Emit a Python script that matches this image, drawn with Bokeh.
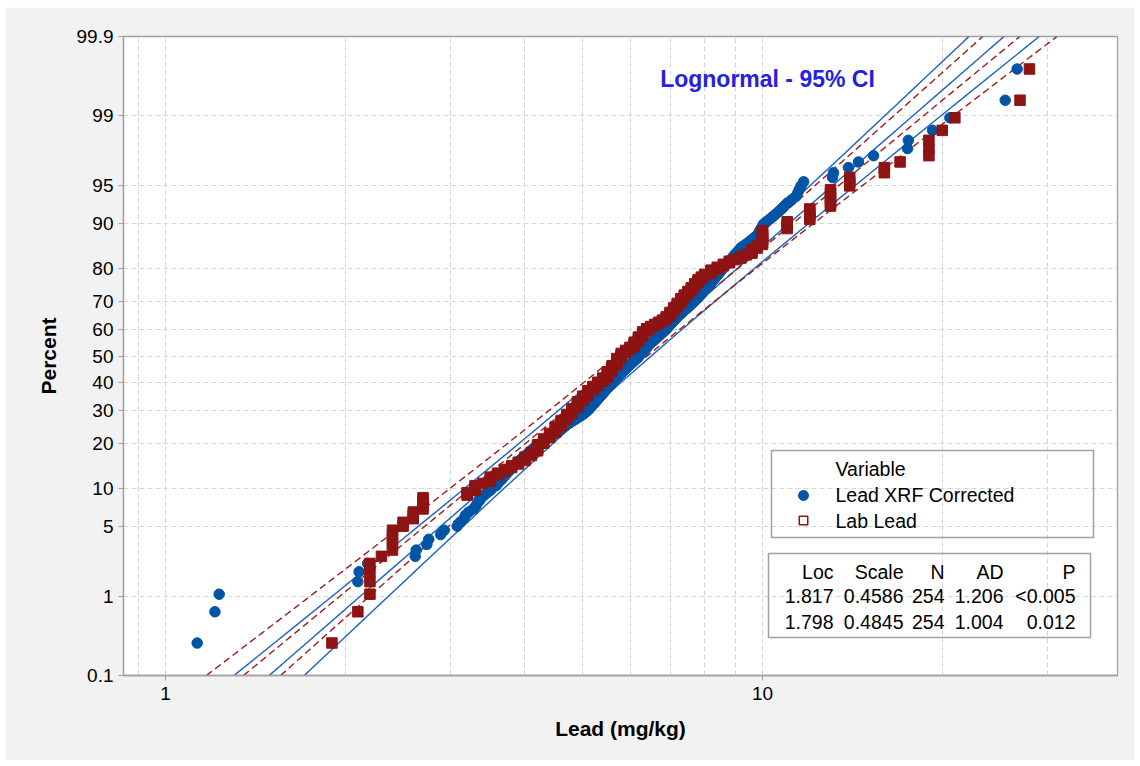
from statistics import NormalDist
import numpy as np
from bokeh.plotting import figure
from bokeh.models import Range1d, FixedTicker, Label, BoxAnnotation
from bokeh.embed import file_html
from bokeh.resources import INLINE

# ---------------- data ----------------
xrf_values = [
    1.13, 1.21, 1.23, 2.10, 2.11, 2.18, 2.62, 2.63, 2.74, 2.76, 2.89, 2.93, 3.08, 3.12,
    3.16, 3.18, 3.22, 3.28, 3.31, 3.33, 3.36, 3.38, 3.42, 3.46, 3.50, 3.53,
    3.58, 3.60, 3.63, 3.66, 3.68, 3.71, 3.73, 3.76, 3.78, 3.80, 3.83, 3.86,
    3.89, 3.92, 3.95, 3.98, 4.01, 4.04, 4.07, 4.10, 4.12, 4.15, 4.18, 4.21, 4.25,
    4.28, 4.32, 4.35, 4.39, 4.42, 4.46, 4.50, 4.53, 4.56, 4.59, 4.62, 4.65, 4.68,
    4.71, 4.75, 4.78, 4.82, 4.86, 4.89, 4.93, 4.96, 5.00, 5.03, 5.06, 5.08, 5.11,
    5.13, 5.15, 5.17, 5.19, 5.21, 5.23, 5.25, 5.27, 5.29, 5.31, 5.33, 5.35,
    5.37, 5.39, 5.41, 5.43, 5.45, 5.47, 5.49, 5.51, 5.53, 5.55, 5.57, 5.59, 5.61,
    5.63, 5.65, 5.67, 5.70, 5.72, 5.74, 5.77, 5.79, 5.81, 5.83, 5.85, 5.88, 5.90,
    5.92, 5.95, 5.97, 6.00, 6.03, 6.05, 6.08, 6.10, 6.13, 6.15, 6.18, 6.20,
    6.22, 6.24, 6.27, 6.29, 6.31, 6.33, 6.35, 6.38, 6.40, 6.42, 6.44, 6.47, 6.49,
    6.52, 6.55, 6.58, 6.61, 6.64, 6.67, 6.70, 6.73, 6.76, 6.79, 6.82, 6.85, 6.88,
    6.91, 6.93, 6.96, 6.98, 7.01, 7.04, 7.06, 7.09, 7.12, 7.14, 7.17, 7.20, 7.23,
    7.26, 7.30, 7.33, 7.37, 7.40, 7.44, 7.48, 7.51, 7.55, 7.58, 7.62, 7.66,
    7.69, 7.73, 7.76, 7.80, 7.83, 7.86, 7.90, 7.93, 7.96, 7.99, 8.02, 8.06, 8.09,
    8.13, 8.17, 8.20, 8.24, 8.28, 8.31, 8.35, 8.39, 8.42, 8.46, 8.50, 8.53, 8.57,
    8.61, 8.66, 8.70, 8.75, 8.79, 8.84, 8.89, 8.94, 8.99, 9.04, 9.09, 9.14, 9.19,
    9.28, 9.37, 9.46, 9.55, 9.64, 9.72, 9.81,
    9.86, 9.90, 9.95, 10.00, 10.04,
    10.15, 10.27, 10.39, 10.51, 10.64,
    10.76, 10.88, 11.00,
    11.18, 11.36, 11.45, 11.52, 11.60,
    11.72, 13.10, 13.15, 13.93, 14.48, 15.35, 17.50, 17.55, 19.27, 20.60, 25.50, 26.70,
]

lab_values = [1.9, 2.1, 2.2, 2.3, 2.4, 2.5, 2.6, 2.7,
              3.2, 3.3, 3.4, 3.5, 3.6, 3.7, 3.8, 3.9,
              4.0, 4.1, 4.2, 4.3, 4.4, 4.5, 4.6, 4.7, 4.8, 4.9,
              5.0, 5.1, 5.2, 5.3, 5.4, 5.5, 5.6, 5.7, 5.8, 5.9,
              6.0, 6.1, 6.2, 6.3, 6.4, 6.5, 6.6, 6.7, 6.8, 6.9,
              7.0, 7.1, 7.2, 7.3, 7.4, 7.5, 7.6, 7.7, 7.8, 7.9,
              8.0, 8.2, 8.4, 8.6, 8.8, 9.0, 9.2, 9.4, 9.6, 9.8,
              10, 11, 12, 13, 14, 16, 17, 19, 20, 21, 27, 28]
lab_counts = [1, 1, 4, 1, 5, 2, 3, 5,
              2, 3, 1, 3, 2, 2, 2, 2,
              3, 3, 5, 4, 4, 5, 5, 5, 5, 6,
              5, 5, 4, 4, 4, 6, 6, 7, 5, 3,
              3, 5, 5, 5, 3, 2, 2, 2, 2, 3,
              4, 4, 4, 4, 3, 3, 3, 3, 3, 2,
              2, 3, 2, 2, 2, 1, 2, 1, 3, 2,
              8, 4, 5, 6, 3, 2, 1, 3, 1, 1, 1, 1]

series_names = ["Lead XRF Corrected", "Lab Lead"]
fit_loc = [1.817, 1.798]
fit_scale = [0.4586, 0.4845]
fit_n = [254, 254]
fit_ad = [1.206, 1.004]
fit_p = ["<0.005", "0.012"]
table_header = ["Loc", "Scale", "N", "AD", "P"]

y_tick_pcts = [0.1, 1, 5, 10, 20, 30, 40, 50, 60, 70, 80, 90, 95, 99, 99.9]
x_tick_vals = [1, 10]
x_grid_vals = [0.9, 1, 2, 3, 4, 5, 6, 7, 8, 9, 10, 20, 30]

# ---------------- styling / geometry ----------------
BLUE = "#0054a6"
RED = "#8e1414"
BLUE_LINE = "#1b62c0"
RED_LINE = "#a11b1b"
GRAY = "#a0a0a0"
FONT = "Liberation Sans"

nd = NormalDist()
y_tick_z = [nd.inv_cdf(v / 100.0) for v in y_tick_pcts]
ZLO, ZHI = y_tick_z[0], y_tick_z[-1]

ML, MT, W, H = 5, 7, 1129, 753          # page margin and figure size
FL, FR, FT, FB = 123, 1117, 36, 675     # frame edges on the page
PX_1, PX_10 = 165, 762                  # page x of 1 and 10
DEC = PX_10 - PX_1
x_lo = 10 ** ((FL - PX_1) / DEC)
x_hi = 10 ** ((FR - PX_1) / DEC)


def px_x(px):
    return 10 ** ((px - PX_1) / DEC)


def px_y(py):
    return ZHI - (py - FT) / (FB - FT) * (ZHI - ZLO)


p = figure(width=W, height=H, x_axis_type="log",
           x_range=Range1d(x_lo, x_hi), y_range=Range1d(ZLO, ZHI),
           output_backend="svg", toolbar_location=None,
           min_border_left=FL - ML, min_border_right=ML + W - FR,
           min_border_top=FT - MT, min_border_bottom=MT + H - FB,
           background_fill_color="white", border_fill_color="#f2f2f2",
           outline_line_color=GRAY, outline_line_width=1.3)
p.margin = (MT, 1140 - ML - W, 766 - MT - H, ML)

# ---------------- grid & axes ----------------
p.xgrid.ticker = FixedTicker(ticks=x_grid_vals)
p.ygrid.ticker = FixedTicker(ticks=y_tick_z)
for g in (p.xgrid, p.ygrid):
    g.grid_line_color = "#d5d5d5"
    g.grid_line_dash = "5 3"
    g.grid_line_width = 1

p.xaxis.ticker = FixedTicker(ticks=x_tick_vals, minor_ticks=[])
p.xaxis.major_label_overrides = {v: str(v) for v in x_tick_vals}
p.yaxis.ticker = FixedTicker(ticks=y_tick_z, minor_ticks=[])
p.yaxis.major_label_overrides = {z: f"{v:g}" for z, v in zip(y_tick_z, y_tick_pcts)}

for ax in (p.xaxis, p.yaxis):
    ax.axis_line_color = GRAY
    ax.axis_line_width = 1.3
    ax.major_tick_line_color = GRAY
    ax.major_tick_out = 5
    ax.major_tick_in = 0
    ax.minor_tick_line_color = None
    ax.major_label_text_font = FONT
    ax.major_label_text_font_size = "19px"
    ax.major_label_text_color = "black"
    ax.axis_label_text_font = FONT
    ax.axis_label_text_font_style = "bold"
    ax.axis_label_text_font_size = "21px"
    ax.axis_label_text_color = "black"

p.xaxis.axis_label = "Lead (mg/kg)"
p.yaxis.axis_label = "Percent"
p.xaxis.major_label_standoff = 6
p.yaxis.major_label_standoff = 5
p.xaxis.axis_label_standoff = 14
p.yaxis.axis_label_standoff = 14

# ---------------- fitted lines with 95% CI ----------------
zz = np.linspace(ZLO, ZHI, 301)
line_styles = [(BLUE_LINE, "solid"), (RED_LINE, "7 4")]
for mu, s, n, (col, dash) in zip(fit_loc, fit_scale, fit_n, line_styles):
    center = mu + s * zz
    se = s * np.sqrt((1.0 + zz ** 2 / 2.0) / n)
    for k in (-1.96, 0.0, 1.96):
        p.line(np.exp(center + k * se), zz, line_color=col, line_width=1.4,
               line_dash=dash)

# ---------------- data points (median ranks) ----------------
def plot_pos(n):
    return [nd.inv_cdf((i - 0.3) / (n + 0.4)) for i in range(1, n + 1)]


xrf_sorted = sorted(xrf_values)
lab_sorted = sorted(np.repeat(lab_values, lab_counts).tolist())

p.scatter(xrf_sorted, plot_pos(len(xrf_sorted)), marker="circle", size=10.5,
          fill_color=BLUE, line_color=BLUE)
p.scatter(lab_sorted, plot_pos(len(lab_sorted)), marker="square", size=10.5,
          fill_color=RED, line_color=RED)

# ---------------- title inside plot ----------------
p.add_layout(Label(x=px_x(767), y=px_y(78), text="Lognormal - 95% CI",
                   text_font=FONT, text_font_style="bold", text_font_size="23px",
                   text_color="#2222e0", text_align="center", text_baseline="middle"))

# ---------------- legend ----------------
p.add_layout(BoxAnnotation(left=px_x(771), right=px_x(1093), top=px_y(450),
                           bottom=px_y(537), fill_color=None, line_color=GRAY,
                           line_alpha=1, line_width=1.5))
p.add_layout(Label(x=px_x(835), y=px_y(468), text="Variable", text_font=FONT,
                   text_font_size="19.5px", text_color="black",
                   text_align="left", text_baseline="middle"))
for name, yy in zip(series_names, [494, 520]):
    p.add_layout(Label(x=px_x(835), y=px_y(yy), text=name, text_font=FONT,
                       text_font_size="19.5px", text_color="black",
                       text_align="left", text_baseline="middle"))
p.scatter([px_x(803)], [px_y(495)], marker="circle", size=10,
          fill_color=BLUE, line_color=BLUE)
p.scatter([px_x(803)], [px_y(520)], marker="square", size=8.5,
          fill_color="white", line_color=RED, line_width=1.5)

# ---------------- statistics table ----------------
p.add_layout(BoxAnnotation(left=px_x(768), right=px_x(1090), top=px_y(553),
                           bottom=px_y(637), fill_color=None, line_color=GRAY,
                           line_alpha=1, line_width=1.5))
col_right = [833, 903, 944, 1003, 1075]
rows = [table_header]
for i in range(len(series_names)):
    rows.append([f"{fit_loc[i]:.3f}", f"{fit_scale[i]:.4f}", str(fit_n[i]),
                 f"{fit_ad[i]:.3f}", fit_p[i]])
for row, yy in zip(rows, [571, 595, 621]):
    for txt, cx in zip(row, col_right):
        p.add_layout(Label(x=px_x(cx), y=px_y(yy), text=txt, text_font=FONT,
                           text_font_size="19.5px", text_color="black",
                           text_align="right", text_baseline="middle"))

open("out.html", "w").write(file_html(p, INLINE))
